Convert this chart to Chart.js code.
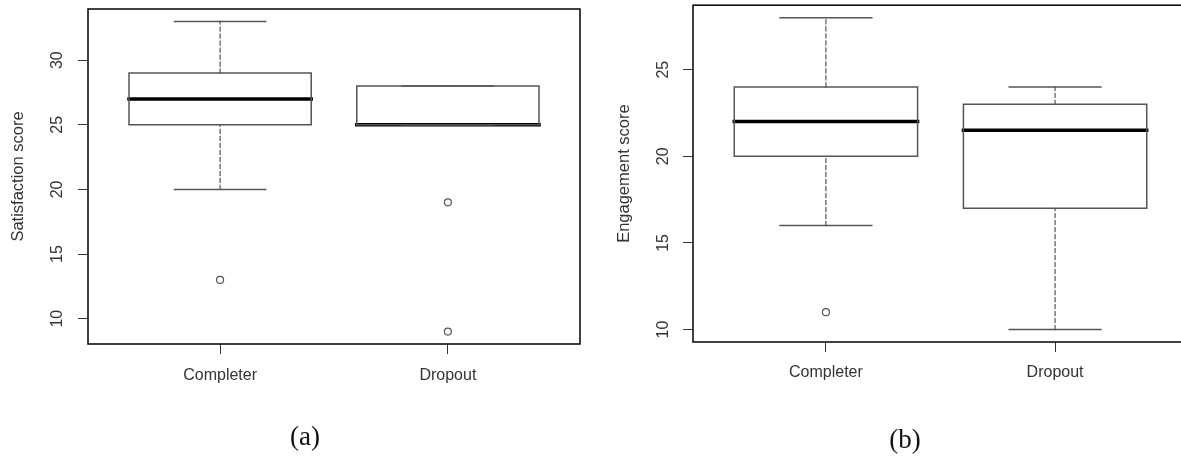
<!DOCTYPE html>
<html>
<head>
<meta charset="utf-8">
<script src="https://cdn.jsdelivr.net/npm/chart.js@4.4.1/dist/chart.umd.min.js"></script>
<style>
  body { margin: 0; background: #fff; overflow: hidden; width: 1181px; height: 456px; position: relative; }
  canvas { position: absolute; top: 0; }
  #graficoA { left: 0; }
  #graficoB { left: 600px; }
  .legenda { position: absolute; font-family: "Liberation Serif", serif; font-size: 27px; color: #111; transform: translate(-50%, -50%); }
</style>
</head>
<body>
<canvas id="graficoA" width="600" height="456"></canvas>
<canvas id="graficoB" width="600" height="456"></canvas>
<div class="legenda" style="left:305px; top:436px">(a)</div>
<div class="legenda" style="left:905px; top:439px">(b)</div>
<script>
// categorias (eixo x)
const grupos = ['Completer', 'Dropout'];

// (a) Satisfaction score
const satMin = [20, 25];
const satQ1 = [25, 25];
const satMediana = [27, 25];
const satQ3 = [29, 28];
const satMax = [33, 28];
const satOutliers = [[13], [19, 9]];
const satTicks = [10, 15, 20, 25, 30];

// (b) Engagement score
const engMin = [16, 10];
const engQ1 = [20, 17];
const engMediana = [22, 21.5];
const engQ3 = [24, 23];
const engMax = [28, 24];
const engOutliers = [[11], []];
const engTicks = [10, 15, 20, 25];

const fonte = { family: '"Liberation Sans", Arial, sans-serif', size: 16 };
const fonteTitulo = { family: '"Liberation Sans", Arial, sans-serif', size: 16.5 };
const corTexto = '#333';

// Função para criar um segmento (linha) como dataset
function linha(pontos, cor, largura, tracejado) {
  return {
    data: pontos,
    showLine: true,
    borderColor: cor,
    borderWidth: largura,
    borderDash: tracejado || [],
    pointRadius: 0,
    tension: 0,
    borderCapStyle: 'square'
  };
}

// Monta os datasets de um boxplot a partir dos arrays
function montarDatasets(minimos, q1, mediana, q3, maximos, outliers) {
  const datasets = [];
  grupos.forEach((g, i) => {
    const x = i + 1;
    // whiskers tracejados
    datasets.push(linha([{ x, y: q3[i] }, { x, y: maximos[i] }], '#555', 1.2, [4, 3]));
    datasets.push(linha([{ x, y: minimos[i] }, { x, y: q1[i] }], '#555', 1.2, [4, 3]));
    // traços nas pontas
    datasets.push(linha([{ x: x - 0.2, y: maximos[i] }, { x: x + 0.2, y: maximos[i] }], '#555', 1.5));
    datasets.push(linha([{ x: x - 0.2, y: minimos[i] }, { x: x + 0.2, y: minimos[i] }], '#555', 1.5));
    // caixa
    datasets.push(linha([
      { x: x - 0.4, y: q1[i] }, { x: x + 0.4, y: q1[i] },
      { x: x + 0.4, y: q3[i] }, { x: x - 0.4, y: q3[i] },
      { x: x - 0.4, y: q1[i] }
    ], '#555', 1.5));
    // mediana
    datasets.push(linha([{ x: x - 0.4, y: mediana[i] }, { x: x + 0.4, y: mediana[i] }], '#000', 3.5));
    // outliers
    datasets.push({
      data: outliers[i].map(v => ({ x, y: v })),
      showLine: false,
      pointStyle: 'circle',
      pointRadius: 3.5,
      pointBorderColor: '#555',
      pointBackgroundColor: '#fff',
      pointBorderWidth: 1.2
    });
  });
  return datasets;
}

// Moldura em volta da área do gráfico
const moldura = {
  id: 'moldura',
  afterDraw(chart) {
    const { ctx, chartArea: a } = chart;
    ctx.save();
    ctx.strokeStyle = '#000';
    ctx.lineWidth = 1.5;
    ctx.strokeRect(a.left, a.top, a.right - a.left, a.bottom - a.top);
    ctx.restore();
  }
};

function criarGrafico(idCanvas, datasets, cfg) {
  return new Chart(document.getElementById(idCanvas), {
    type: 'scatter',
    data: { datasets },
    options: {
      responsive: false,
      animation: false,
      layout: { padding: { top: cfg.topo, right: cfg.direita, left: 0, bottom: 0 } },
      plugins: { legend: { display: false }, tooltip: { enabled: false } },
      scales: {
        x: {
          type: 'linear',
          min: 0.42,
          max: 2.58,
          afterBuildTicks: eixo => { eixo.ticks = grupos.map((g, i) => ({ value: i + 1 })); },
          afterFit: eixo => {
            eixo.height = cfg.alturaX;
            eixo.paddingLeft = 0;
            eixo.paddingRight = 0;
          },
          ticks: {
            callback: (v, i) => grupos[i],
            font: fonte,
            color: corTexto,
            padding: cfg.padX,
            autoSkip: false,
            maxRotation: 0
          },
          grid: { drawOnChartArea: false, tickLength: 10, color: '#333' },
          border: { display: false }
        },
        y: {
          type: 'linear',
          min: cfg.yMin,
          max: cfg.yMax,
          afterBuildTicks: eixo => { eixo.ticks = cfg.ticks.map(v => ({ value: v })); },
          afterFit: eixo => {
            eixo.width = cfg.larguraY;
            eixo.paddingTop = 0;
            eixo.paddingBottom = 0;
          },
          ticks: {
            minRotation: 90,
            maxRotation: 90,
            crossAlign: 'center',
            padding: cfg.padY,
            font: fonte,
            color: corTexto
          },
          grid: { drawOnChartArea: false, tickLength: 10, color: '#333' },
          border: { display: false },
          title: {
            display: true,
            text: cfg.titulo,
            font: fonteTitulo,
            color: corTexto,
            padding: { top: cfg.padTitulo, bottom: 0 }
          }
        }
      }
    },
    plugins: [moldura]
  });
}

criarGrafico('graficoA', montarDatasets(satMin, satQ1, satMediana, satQ3, satMax, satOutliers), {
  topo: 9, direita: 20, alturaX: 112, larguraY: 88,
  yMin: 8.04, yMax: 33.96, ticks: satTicks,
  padX: 12, padY: 12, padTitulo: 8.1,
  titulo: 'Satisfaction score'
});

criarGrafico('graficoB', montarDatasets(engMin, engQ1, engMediana, engQ3, engMax, engOutliers), {
  topo: 3, direita: 12, alturaX: 114, larguraY: 93,
  yMin: 9.28, yMax: 28.72, ticks: engTicks,
  padX: 11, padY: 11, padTitulo: 14.1,
  titulo: 'Engagement score'
});
</script>
</body>
</html>
